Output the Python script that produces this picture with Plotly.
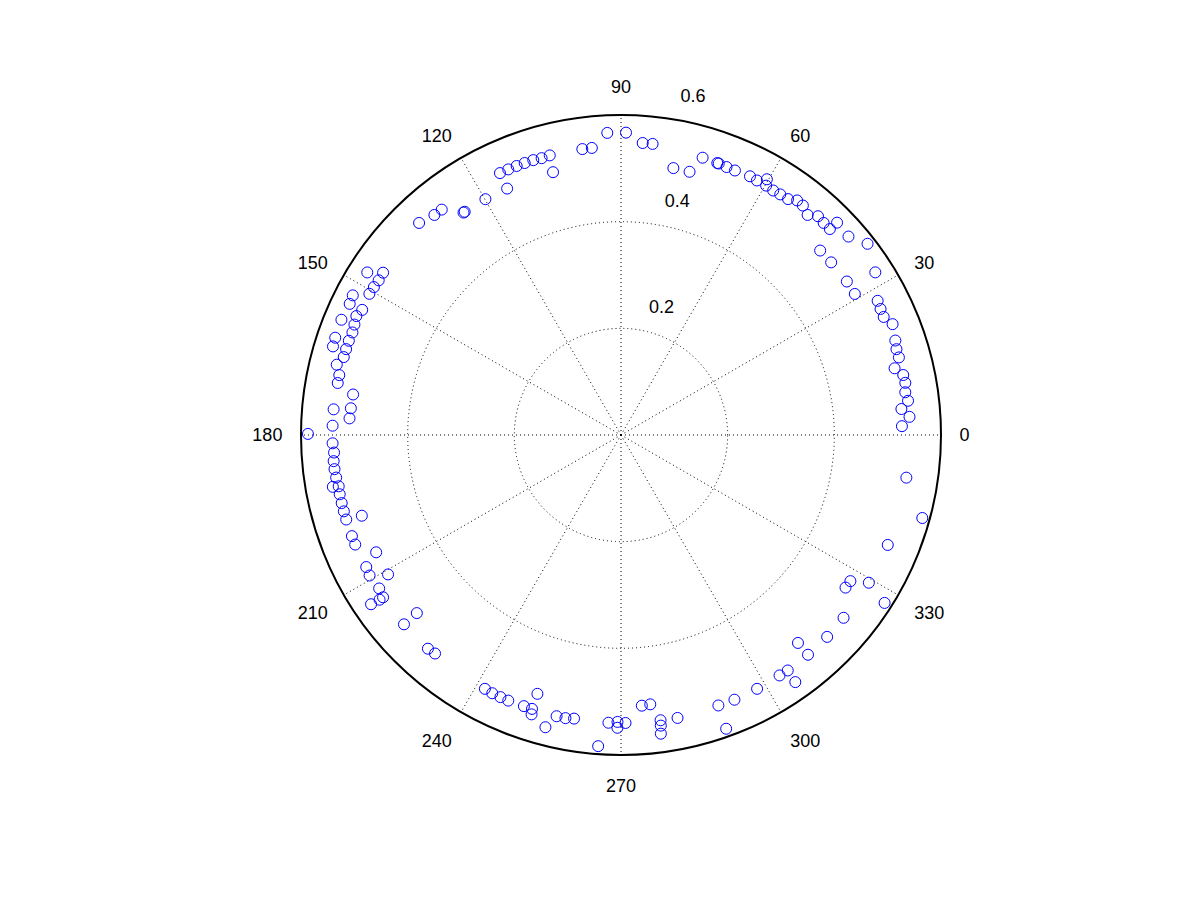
import plotly.graph_objects as go

theta_deg = [
    92.6, 89.05, 85.75, 83.8, 97.7, 95.8, 104.3, 106.0, 107.7, 109.5, 111.2, 113.0, 114.8,
    104.5, 114.8, 119.9, 125.0, 125.3, 128.5, 130.3, 133.6,
    78.9, 75.4, 73.6, 70.5, 70.2, 68.5, 66.7, 63.5, 61.9, 60.3, 59.8, 58.1, 56.5, 54.7,
    53.1, 51.6, 49.7, 48.0, 46.3, 44.6, 44.5, 41.1, 37.8, 42.8, 39.4, 32.6, 34.2, 31.1,
    27.6, 25.9, 24.2, 22.2, 19.0, 17.3, 15.6, 13.7, 12.0, 10.4, 8.55, 6.8, 5.3, 3.6, 1.8,
    351.5, 344.6, 337.6, 327.5, 325.8, 329.2, 327.5, 320.6, 315.6, 310.4, 310.4, 303.4,
    305.3, 305.2, 298.2, 293.2, 289.8, 289.7, 281.3, 277.9, 277.8, 277.6, 276.2, 274.4,
    267.5, 269.3, 270.9, 269.3, 265.8, 260.6, 258.9, 257.1, 255.5, 252.1, 250.3, 252.0,
    252.25, 247.0, 245.3, 243.5, 241.8,
    227.9, 229.6, 221.1, 221.1, 214.1, 214.3, 214.3, 212.4, 210.9, 209.2, 207.4, 205.6,
    202.4, 200.6, 197.3, 197.1, 195.4, 193.7, 191.9, 190.3, 190.2, 188.5, 186.8, 185.2,
    183.5, 181.65, 179.8,
    178.15, 176.5, 174.35, 174.9, 171.4, 169.6, 168.0, 166.1, 164.3, 162.65, 162.9, 160.9,
    161.2, 159.1, 157.6, 157.5, 155.8, 154.2, 154.2, 152.5, 150.7, 149.1, 147.45, 145.7,
    147.35,
]

rho = [
    0.567, 0.567, 0.549, 0.549, 0.541, 0.541, 0.541, 0.540, 0.541, 0.541, 0.541, 0.541, 0.541,
    0.509, 0.509, 0.510, 0.511, 0.511, 0.540, 0.541, 0.549,
    0.510, 0.510, 0.542, 0.541, 0.541, 0.540, 0.540, 0.542, 0.541, 0.552, 0.541, 0.540, 0.541, 0.542,
    0.550, 0.549, 0.541, 0.552, 0.550, 0.550, 0.568, 0.566, 0.585, 0.509, 0.510, 0.566, 0.512, 0.512,
    0.543, 0.541, 0.540, 0.550, 0.544, 0.541, 0.541, 0.528, 0.541, 0.542, 0.539, 0.542, 0.528, 0.542, 0.527,
    0.541, 0.586, 0.541, 0.510, 0.509, 0.541, 0.586, 0.540, 0.541, 0.512, 0.541, 0.540,
    0.541, 0.567, 0.540, 0.540, 0.539, 0.585, 0.541, 0.540, 0.550, 0.565, 0.508, 0.509,
    0.540, 0.538, 0.540, 0.549, 0.585, 0.539, 0.541, 0.541, 0.566, 0.510, 0.540, 0.540,
    0.550, 0.541, 0.541, 0.541, 0.540,
    0.540, 0.538, 0.540, 0.508, 0.566, 0.548, 0.540, 0.537, 0.509, 0.540, 0.538, 0.509,
    0.539, 0.539, 0.509, 0.539, 0.539, 0.539, 0.539, 0.538, 0.549, 0.540, 0.541, 0.541,
    0.539, 0.541, 0.587,
    0.541, 0.510, 0.509, 0.541, 0.508, 0.540, 0.540, 0.549, 0.540, 0.540, 0.565, 0.540,
    0.566, 0.539, 0.567, 0.541, 0.544, 0.539, 0.565, 0.567, 0.541, 0.540, 0.539, 0.540,
    0.565,
]

angle_ticks = [0, 30, 60, 90, 120, 150, 180, 210, 240, 270, 300, 330]
angle_labels = [str(a) for a in angle_ticks]
radial_ticks = [0.2, 0.4, 0.6]
radial_labels = ["0.2", "0.4", "0.6"]
radial_label_angle = 81.5

fig = go.Figure()
fig.add_trace(go.Scatterpolar(
    r=rho, theta=theta_deg, mode="markers",
    marker=dict(symbol="circle-open", size=11, color="#0000ff", line=dict(width=1, color="#0000ff")),
    showlegend=False, hoverinfo="skip",
))
# radial tick labels, MATLAB style (horizontal text beside the spoke near 80 degrees)
fig.add_trace(go.Scatterpolar(
    r=radial_ticks, theta=[radial_label_angle] * len(radial_ticks), mode="markers+text",
    text=radial_labels, textposition="top right",
    marker=dict(size=18, color="rgba(0,0,0,0)", line=dict(width=0)),
    textfont=dict(family="Liberation Sans, Arial, sans-serif", size=18, color="black"),
    showlegend=False, hoverinfo="skip", cliponaxis=False,
))

dots = "1px,3px"
fig.update_layout(
    width=1201, height=901,
    paper_bgcolor="white", plot_bgcolor="white",
    margin=dict(l=0, r=0, t=0, b=0),
    font=dict(family="Liberation Sans, Arial, sans-serif", size=18, color="black"),
    polar=dict(
        domain=dict(x=[(621 - 320) / 1201, (621 + 320) / 1201], y=[(466 - 320) / 901, (466 + 320) / 901]),
        bgcolor="white",
        radialaxis=dict(
            range=[0, 0.6], tickvals=radial_ticks, showticklabels=False,
            showline=False, ticks="",
            gridcolor="black", griddash=dots, gridwidth=1,
        ),
        angularaxis=dict(
            tickvals=angle_ticks, ticktext=angle_labels, direction="counterclockwise", rotation=0,
            showline=True, linecolor="black", linewidth=2,
            gridcolor="black", griddash=dots, gridwidth=1,
            ticks="outside", ticklen=14, tickcolor="rgba(0,0,0,0)",
            tickfont=dict(size=18, color="black"),
        ),
    ),
)

fig.write_html("out.html")
